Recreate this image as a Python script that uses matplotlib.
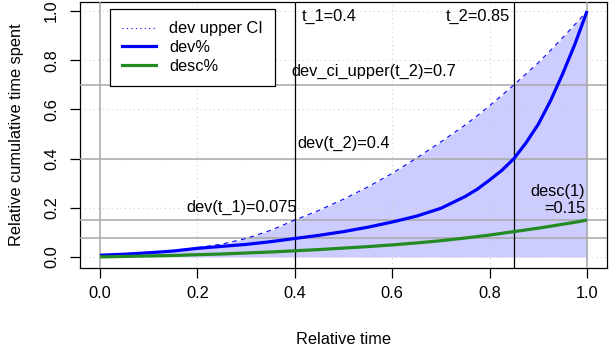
import matplotlib.pyplot as plt

plt.rcParams['font.family'] = ['Liberation Sans', 'DejaVu Sans']

# relative time grid
t = [0.0, 0.05, 0.1, 0.15, 0.2, 0.25, 0.3, 0.35, 0.4, 0.45, 0.5,
     0.55, 0.6, 0.65, 0.7, 0.75, 0.775, 0.8, 0.825, 0.85, 0.875, 0.9,
     0.925, 0.95, 0.975, 1.0]
# upper CI of dev share
dev_upper = [0.007, 0.011, 0.017, 0.024, 0.038, 0.052, 0.075, 0.108, 0.15, 0.19, 0.235,
             0.285, 0.34, 0.402, 0.468, 0.537, 0.575, 0.615, 0.657, 0.70, 0.745, 0.79,
             0.84, 0.892, 0.945, 1.0]
# dev share
dev = [0.007, 0.011, 0.017, 0.024, 0.035, 0.043, 0.051, 0.062, 0.075, 0.088, 0.103,
       0.121, 0.142, 0.166, 0.198, 0.246, 0.276, 0.313, 0.352, 0.40, 0.465, 0.54,
       0.635, 0.745, 0.865, 1.0]
# description share
desc = [0.0, 0.002, 0.004, 0.006, 0.009, 0.012, 0.016, 0.02, 0.025, 0.03, 0.036,
        0.042, 0.049, 0.057, 0.066, 0.077, 0.083, 0.089, 0.096, 0.103, 0.11, 0.117,
        0.125, 0.133, 0.141, 0.15]

hlines = [0.7, 0.4, 0.15, 0.075]
vgray = [0.0, 1.0]
vblack = [0.4, 0.85]
ticks = [0.0, 0.2, 0.4, 0.6, 0.8, 1.0]

fig = plt.figure(figsize=(6.09, 3.49), dpi=100)
ax = fig.add_axes([80/609, (349-268)/349, (607-80)/609, (268-2)/349])
ax.set_xlim(-0.041, 1.041)
ax.set_ylim(-0.045, 1.037)

#fill area under upper CI
ax.fill_between(t, 0, dev_upper, color='#ccccff', lw=0, zorder=1)

#dotted grid
for v in ticks:
    ax.axvline(v, color='#d3d3d3', lw=0.8, ls=(0, (1, 3)), zorder=2)
    ax.axhline(v, color='#d3d3d3', lw=0.8, ls=(0, (1, 3)), zorder=2)

#reference lines
for h in hlines:
    ax.axhline(h, color='#a8a8a8', lw=1.1, zorder=3)
for v in vgray:
    ax.axvline(v, color='#a8a8a8', lw=1.1, zorder=3)
for v in vblack:
    ax.axvline(v, color='black', lw=0.9, zorder=3)

#curves
ax.plot(t, dev_upper, color='blue', lw=0.8, ls=(0, (4, 4)), zorder=4)
ax.plot(t, dev, color='blue', lw=2.3, zorder=5, solid_capstyle='butt')
ax.plot(t, desc, color='#228b22', lw=2.3, zorder=5, solid_capstyle='butt')

#annotations
fs = 11.8
ax.text(0.414, 0.98, 't_1=0.4', ha='left', va='center', fontsize=fs, zorder=6)
ax.text(0.842, 0.98, 't_2=0.85', ha='right', va='center', fontsize=fs, zorder=6)
ax.text(0.5625, 0.756, 'dev_ci_upper(t_2)=0.7', ha='center', va='center', fontsize=fs, zorder=6)
ax.text(0.5, 0.463, 'dev(t_2)=0.4', ha='center', va='center', fontsize=fs, zorder=6)
ax.text(0.29, 0.203, 'dev(t_1)=0.075', ha='center', va='center', fontsize=fs, zorder=6)
ax.text(0.996, 0.233, 'desc(1)\n=0.15', ha='right', va='center', fontsize=fs,
        multialignment='right', linespacing=1.15, zorder=6)

#legend
h1, = ax.plot([], [], color='blue', lw=0.8, ls=(0, (1, 3)))
h2, = ax.plot([], [], color='blue', lw=2.3)
h3, = ax.plot([], [], color='#228b22', lw=2.3)
leg = ax.legend([h1, h2, h3], ['dev upper CI', 'dev%', 'desc%'], loc='upper left',
                bbox_to_anchor=(30/527, 1 - 7/266), fancybox=False, framealpha=1,
                edgecolor='black', fontsize=fs, handlelength=2.05, handletextpad=0.8,
                labelspacing=0.22, borderpad=0.75, borderaxespad=0)
leg.get_frame().set_linewidth(0.9)
leg.set_zorder(7)

#axes styling
ax.set_xticks(ticks)
ax.set_yticks(ticks)
ax.set_xticklabels(['0.0', '0.2', '0.4', '0.6', '0.8', '1.0'], fontsize=fs)
ax.set_yticklabels(['0.0', '0.2', '0.4', '0.6', '0.8', '1.0'], fontsize=fs,
                   rotation=90, va='center')
ax.tick_params(direction='out', length=7.2, width=0.9)
ax.tick_params(axis='x', pad=6)
ax.tick_params(axis='y', pad=8)
for s in ax.spines.values():
    s.set_linewidth(0.9)
ax.set_xlabel('Relative time', fontsize=fs, labelpad=22)
ax.set_ylabel('Relative cumulative time spent', fontsize=fs, labelpad=14)

plt.savefig('out.png', dpi=100)
